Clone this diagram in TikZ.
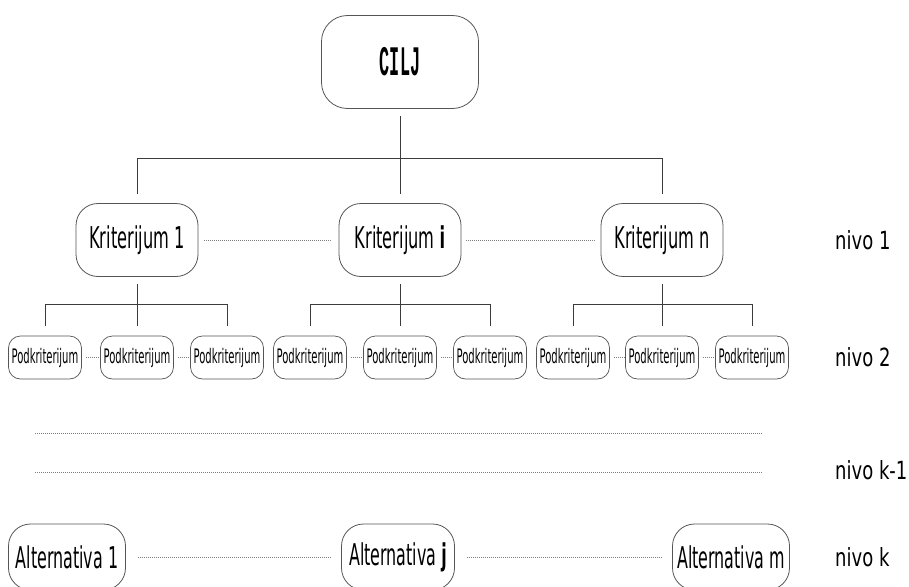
\documentclass[tikz,border=0pt]{standalone}
\usepackage{fontspec}
\usepackage{graphicx}
\setmainfont{DejaVu Sans}
\newfontfamily\monofam{Liberation Mono}
\newcommand\sqz[3]{\scalebox{#1}[1]{\fontsize{#2}{#2}\selectfont #3}}
\definecolor{boxgray}{HTML}{555555}
\definecolor{linegray}{HTML}{3C3C3C}
\definecolor{dotgray}{HTML}{808080}
\begin{document}
\begin{tikzpicture}[x=1pt,y=-1pt,
  bigbox/.style={draw=boxgray, line width=0.8pt, rounded corners=26pt, minimum width=157pt, minimum height=93pt, inner sep=0pt},
  kbox/.style={draw=boxgray, line width=0.8pt, rounded corners=22pt, minimum width=122pt, minimum height=73pt, inner sep=0pt},
  pbox/.style={draw=boxgray, line width=0.7pt, rounded corners=12pt, minimum width=73pt, minimum height=43pt, inner sep=0pt},
  abox/.style={draw=boxgray, line width=0.8pt, rounded corners=22pt, minimum height=66pt, inner sep=0pt},
  conn/.style={draw=linegray, line width=0.9pt},
  dots/.style={draw=dotgray, line width=0.7pt, dash pattern=on 0.8pt off 1.2pt},
  lvl/.style={anchor=west, inner sep=0pt}]
\useasboundingbox (0,0) rectangle (909,586);
\clip (0,0) rectangle (909,586);

% goal
\node[bigbox] (cilj) at (400,62) {\scalebox{0.4}[1]{\fontsize{42}{42}\selectfont\monofam\bfseries CILJ}};

% criteria
\node[kbox] (k1) at (137,240) {\sqz{0.54}{30}{Kriterijum 1}};
\node[kbox] (ki) at (400,240) {\sqz{0.54}{30}{Kriterijum \textbf{i}}};
\node[kbox] (kn) at (662,240) {\sqz{0.54}{30}{Kriterijum n}};

% sub-criteria
\foreach \n/\x in {p1/45,p2/137,p3/227,p4/310,p5/400,p6/490,p7/573,p8/662,p9/752}
  \node[pbox] (\n) at (\x,357.5) {\sqz{0.5}{20}{Podkriterijum}};

% alternatives
\node[abox, minimum width=117pt] (a1) at (67,557) {\sqz{0.53}{30}{Alternativa 1}};
\node[abox, minimum width=113pt] (aj) at (398,557) {\sqz{0.53}{30}{Alternativa \textbf{j}}};
\node[abox, minimum width=117pt] (am) at (731,557) {\sqz{0.53}{30}{Alternativa m}};

% level labels
\node[lvl] (n1) at (835,240) {\sqz{0.72}{25}{nivo 1}};
\node[lvl] (n2) at (835,357) {\sqz{0.72}{25}{nivo 2}};
\node[lvl] (nk1) at (835,470) {\sqz{0.72}{25}{nivo k-1}};
\node[lvl] (nk) at (835,557) {\sqz{0.72}{25}{nivo k}};

% tree: goal -> criteria
\coordinate (bar0) at (400,158);
\draw[conn] ([yshift=-7pt]cilj.south) -- (cilj.south |- bar0);
\draw[conn] ([yshift=9pt]k1.north) -- (k1.north |- bar0) -- (kn.north |- bar0) -- ([yshift=9pt]kn.north);
\draw[conn] (ki.north |- bar0) -- ([yshift=9pt]ki.north);

% tree: criteria -> sub-criteria
\coordinate (bar1) at (0,304);
\foreach \k/\a/\b/\c in {k1/p1/p2/p3, ki/p4/p5/p6, kn/p7/p8/p9} {
  \draw[conn] ([yshift=-7pt]\k.south) -- (\k.south |- bar1);
  \draw[conn] ([yshift=10pt]\a.north) -- (\a.north |- bar1) -- (\c.north |- bar1) -- ([yshift=10pt]\c.north);
  \draw[conn] (\b.north |- bar1) -- ([yshift=10pt]\b.north);
}

% dotted links
\draw[dots] ([xshift=6pt]k1.east) -- ([xshift=-7pt]ki.west);
\draw[dots] ([xshift=5pt]ki.east) -- ([xshift=-6pt]kn.west);
\foreach \a/\b in {p1/p2,p2/p3,p4/p5,p5/p6,p7/p8,p8/p9}
  \draw[dots] ([xshift=4pt]\a.east) -- ([xshift=-1pt]\b.west);
\draw[dots] ([xshift=12pt]a1.east) -- ([xshift=-10pt]aj.west);
\draw[dots] ([xshift=12pt]aj.east) -- ([xshift=-11pt]am.west);

% intermediate levels
\coordinate (l1a) at (35,433); \coordinate (l1b) at (762,433);
\coordinate (l2a) at (35,472); \coordinate (l2b) at (762,472);
\draw[dots] (l1a) -- (l1b);
\draw[dots] (l2a) -- (l2b);
\end{tikzpicture}
\end{document}
